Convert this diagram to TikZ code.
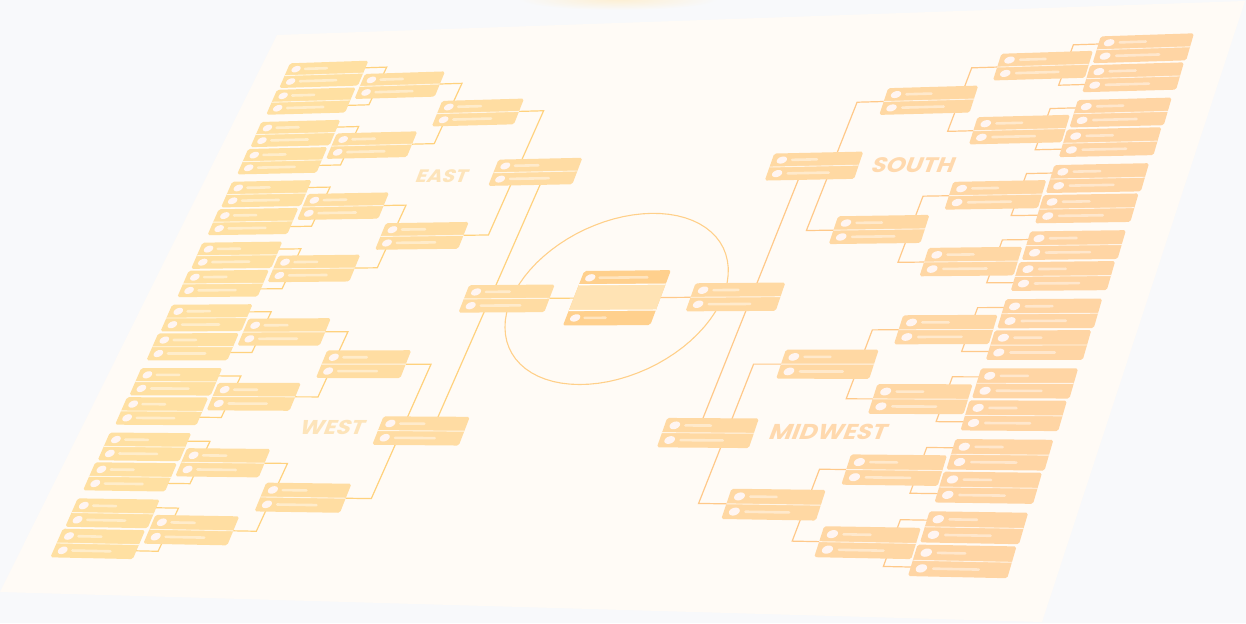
\documentclass[tikz,border=0pt]{standalone}
\usepackage{fontspec}
\newfontfamily\lblfont{Poppins}
\definecolor{bgcol}{HTML}{F8F9FB}
\definecolor{pagecol}{HTML}{FFFBF6}
\definecolor{boxL}{HTML}{FFE0A2}
\definecolor{boxR}{HTML}{FFD5A4}
\definecolor{lineL}{HTML}{FFD27E}
\definecolor{lineR}{HTML}{FFC98A}
\definecolor{dotcol}{HTML}{FFF5F2}
\definecolor{ctop}{HTML}{FFD08D}
\definecolor{cmid}{HTML}{FFE3B4}
\definecolor{lblL}{HTML}{FDE4BA}
\definecolor{lblR}{HTML}{FFD9AE}
\definecolor{glowcol}{HTML}{FDEFD2}
\definecolor{ellcol}{HTML}{FFD08A}

\makeatletter
\tikzdeclarecoordinatesystem{hg}{\hg@parse#1\@nil}
\def\hg@parse#1,#2\@nil{%
  \pgfmathsetmacro\hg@s{(#1)/930}%
  \pgfmathsetmacro\hg@t{(#2)/520}%
  \pgfmathsetmacro\hg@w{1-0.090618*\hg@s-0.072833*\hg@t}%
  \pgfmathsetmacro\hg@x{(795.802*\hg@s-244.569*\hg@t+290)/\hg@w}%
  \pgfmathsetmacro\hg@y{(-33.018*\hg@s+453.41*\hg@t+63.3)/\hg@w}%
  \pgfpoint{\hg@x pt}{-\hg@y pt}%
}
\makeatother

\newcommand\hgdot[2]{%
  \fill[dotcol] (hg cs:{#1+4.9},{#2})
    \foreach \qa/\qb in {0.924/0.383,0.707/0.707,0.383/0.924,0/1,-0.383/0.924,-0.707/0.707,-0.924/0.383,-1/0,-0.924/-0.383,-0.707/-0.707,-0.383/-0.924,0/-1,0.383/-0.924,0.707/-0.707,0.924/-0.383}
    { -- (hg cs:{#1+4.9*(\qa)},{#2+3.7*(\qb)}) } -- cycle;
}

\newcommand\tbox[2]{%
  \pgfmathtruncatemacro\mixp{(#1+44)/930*100}%
  \colorlet{curbox}{boxR!\mixp!boxL}%
  \fill[curbox, rounded corners=1.8pt] (hg cs:{#1},{#2}) -- (hg cs:{#1+88},{#2}) -- (hg cs:{#1+89.5},{#2+28}) -- (hg cs:{#1+1.5},{#2+28}) -- cycle;
  \draw[white, opacity=0.75, line width=0.9pt] (hg cs:{#1+0.75},{#2+14}) -- (hg cs:{#1+88.75},{#2+14});
  \hgdot{#1+10.3}{#2+7}%
  \hgdot{#1+11}{#2+21}%
  \draw[barsty] (hg cs:{#1+20.5},{#2+7}) -- (hg cs:{#1+45},{#2+7});
  \draw[barsty] (hg cs:{#1+21.5},{#2+21}) -- (hg cs:{#1+62},{#2+21});
}

\tikzset{
  lnL/.style={draw=lineL, line width=1.2pt},
  lnR/.style={draw=lineR, line width=1.2pt},
  barsty/.style={draw=white, opacity=0.45, line width=2.6pt, line cap=round},
  lbl/.style={font=\lblfont\bfseries, inner sep=0pt, xslant=0.38, xscale=1.15}
}

\begin{document}
\begin{tikzpicture}[x=1pt,y=-1pt]
\useasboundingbox (0,0) rectangle (1246,623);
\fill[bgcol] (0,0) rectangle (1246,623);
\shade[inner color=glowcol, outer color=bgcol] (618,-1) ellipse [x radius=100pt, y radius=11pt];
\fill[pagecol] (277,35) -- (1245,1) -- (1042,622) -- (0,592) -- cycle;

% connectors: first round
\foreach \k in {0,...,7}{
  \pgfmathsetmacro\ya{66*\k+8}
  \pgfmathsetmacro\yb{66*\k+50}
  \draw[lnL] (hg cs:80,\ya) -- (hg cs:112,\ya) -- (hg cs:112,\yb) -- (hg cs:80,\yb);
  \draw[lnR] (hg cs:850,\ya) -- (hg cs:818.5,\ya) -- (hg cs:818.5,\yb) -- (hg cs:850,\yb);
}
% second round
\foreach \m in {0,...,3}{
  \pgfmathsetmacro\ya{132*\m+29}
  \pgfmathsetmacro\yb{132*\m+95}
  \draw[lnL] (hg cs:170,\ya) -- (hg cs:204,\ya) -- (hg cs:204,\yb) -- (hg cs:170,\yb);
  \draw[lnR] (hg cs:760,\ya) -- (hg cs:727.5,\ya) -- (hg cs:727.5,\yb) -- (hg cs:760,\yb);
}
% third round
\foreach \i in {0,1}{
  \pgfmathsetmacro\ya{264*\i+62}
  \pgfmathsetmacro\yb{264*\i+194}
  \draw[lnL] (hg cs:270,\ya) -- (hg cs:306,\ya) -- (hg cs:306,\yb) -- (hg cs:270,\yb);
  \draw[lnR] (hg cs:662,\ya) -- (hg cs:627,\ya) -- (hg cs:627,\yb) -- (hg cs:662,\yb);
}
% regional finals to semifinals
\draw[lnL] (hg cs:337,128) -- (hg cs:337,392);
\draw[lnR] (hg cs:599,128) -- (hg cs:599,392);
% semifinals to final
\draw[lnL] (hg cs:390,260) -- (hg cs:430,260);
\draw[lnR] (hg cs:500,260) -- (hg cs:545,260);

% big ellipse
\draw[ellcol, line width=1.1pt] (hg cs:571,260)
  \foreach \ang in {5,10,...,355} { -- (hg cs:{465+106*cos(\ang)},{260+86*sin(\ang)}) } -- cycle;

% boxes
\foreach \k in {0,...,7}{
  \pgfmathsetmacro\va{66*\k}
  \pgfmathsetmacro\vb{66*\k+30}
  \pgfmathsetmacro\vc{66*\k+15}
  \tbox{0}{\va}
  \tbox{0}{\vb}
  \tbox{842}{\va}
  \tbox{842}{\vb}
  \tbox{91.3}{\vc}
  \tbox{751.5}{\vc}
}
\foreach \j in {0,...,3}{
  \pgfmathsetmacro\va{132*\j+48}
  \tbox{191.2}{\va}
  \tbox{652.5}{\va}
}
\foreach \i in {0,1}{
  \pgfmathsetmacro\va{264*\i+114}
  \tbox{281.1}{\va}
  \tbox{564.4}{\va}
}
\tbox{309.2}{246}
\tbox{538.5}{246}

% championship box
\fill[ctop, rounded corners=2pt] (hg cs:421.4,232.5) -- (hg cs:508.6,232.5) -- (hg cs:510.6,287.5) -- (hg cs:423.4,287.5) -- cycle;
\fill[cmid] (hg cs:421.9,246.5) -- (hg cs:509.1,246.5) -- (hg cs:510.05,272.5) -- (hg cs:422.85,272.5) -- cycle;
\draw[white, line width=1.1pt] (hg cs:421.9,246.5) -- (hg cs:509.1,246.5);
\draw[white, line width=1.1pt] (hg cs:422.85,272.5) -- (hg cs:510.05,272.5);
\hgdot{430.5}{239.5}
\hgdot{432.5}{280}
\draw[barsty] (hg cs:440,239.5) -- (hg cs:488,239.5);
\draw[barsty] (hg cs:442,280) -- (hg cs:463,280);

% region labels
\node[lbl, text=lblL, font=\lblfont\bfseries\fontsize{18}{18}\selectfont] (east) at (442.5,176.3) {EAST};
\node[lbl, text=lblL, font=\lblfont\bfseries\fontsize{20}{20}\selectfont] (west) at (333,427) {WEST};
\node[lbl, text=lblR, font=\lblfont\bfseries\fontsize{21}{21}\selectfont] (south) at (914,165) {SOUTH};
\node[lbl, text=lblR, font=\lblfont\bfseries\fontsize{21.5}{21.5}\selectfont] (midwest) at (829,431.7) {MIDWEST};
\end{tikzpicture}
\end{document}
